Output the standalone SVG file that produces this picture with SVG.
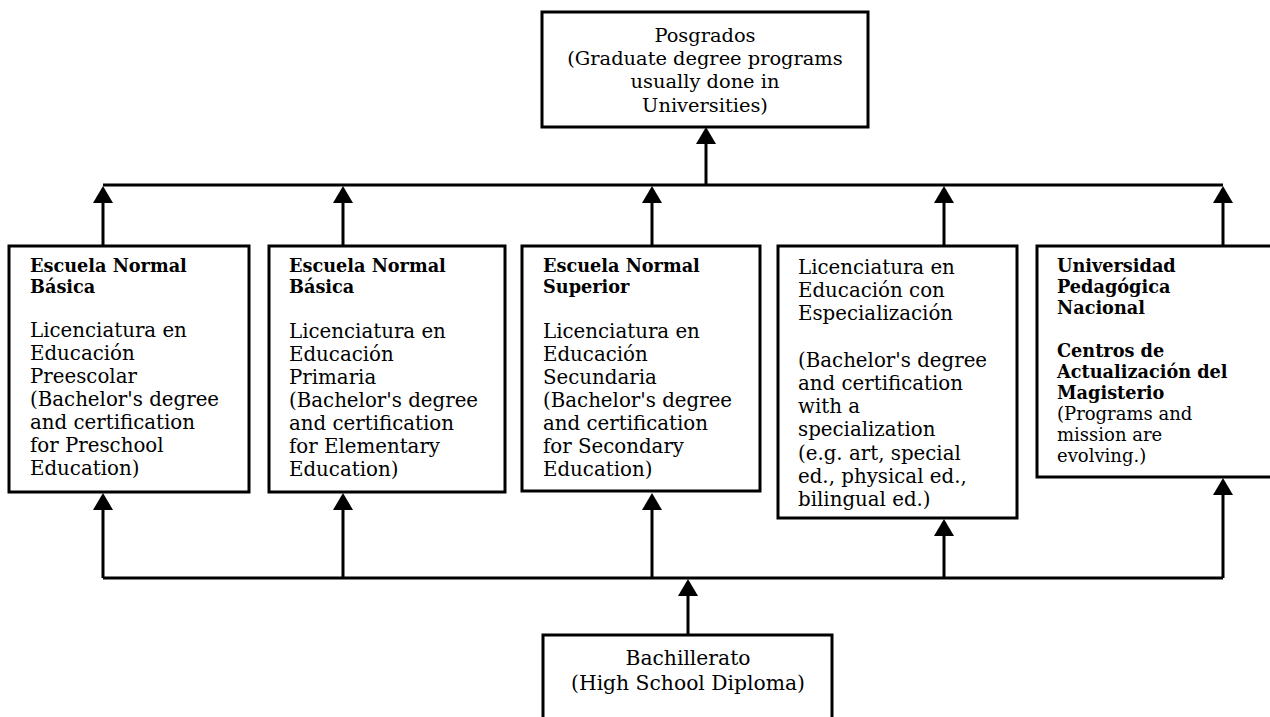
<svg xmlns="http://www.w3.org/2000/svg" width="1270" height="717" viewBox="0 0 1270 717">
<defs>
<style>
.box{fill:#fff;stroke:#000;stroke-width:3}
.ln{fill:none;stroke:#000;stroke-width:3}
.t{font-family:"DejaVu Serif",serif;font-size:19.8px;fill:#000}
.p{font-family:"DejaVu Serif",serif;font-size:19.4px;fill:#000}
.b{font-family:"DejaVu Serif",serif;font-size:17.7px;font-weight:bold;fill:#000}
.s{font-family:"DejaVu Serif",serif;font-size:18px;fill:#000}
.c{font-family:"DejaVu Serif",serif;font-size:20.3px;fill:#000}
</style>
<marker id="ah" viewBox="0 0 17 20" markerWidth="17" markerHeight="20" refX="9" refY="10" orient="auto" markerUnits="userSpaceOnUse">
<path d="M0,0 L17,10 L0,20 Z" fill="#000"/>
</marker>
</defs>
<rect width="1270" height="717" fill="#fff"/>

<g id="connectors">
<path class="ln" d="M103,185 H1223"/>
<path class="ln" d="M706,185 V135" marker-end="url(#ah)"/>
<path class="ln" d="M103,246 V194" marker-end="url(#ah)"/>
<path class="ln" d="M343,246 V194" marker-end="url(#ah)"/>
<path class="ln" d="M652,246 V194" marker-end="url(#ah)"/>
<path class="ln" d="M944,246 V194" marker-end="url(#ah)"/>
<path class="ln" d="M1223,246 V194" marker-end="url(#ah)"/>
<path class="ln" d="M103,578 H1223"/>
<path class="ln" d="M103,578 V501" marker-end="url(#ah)"/>
<path class="ln" d="M343,578 V501" marker-end="url(#ah)"/>
<path class="ln" d="M652,578 V501" marker-end="url(#ah)"/>
<path class="ln" d="M944,578 V527" marker-end="url(#ah)"/>
<path class="ln" d="M1223,578 V486" marker-end="url(#ah)"/>
<path class="ln" d="M688,635 V587" marker-end="url(#ah)"/>
</g>

<g id="posgrados">
<rect class="box" x="542" y="12" width="326" height="115"/>
<g text-anchor="middle">
<text class="p" x="705" y="42">Posgrados</text>
<text class="p" x="705" y="65">(Graduate degree programs</text>
<text class="p" x="705" y="88">usually done in</text>
<text class="p" x="705" y="112">Universities)</text>
</g>
</g>

<g id="preescolar">
<rect class="box" x="9" y="246" width="240" height="246"/>
<text class="b" x="30" y="272">Escuela Normal</text>
<text class="b" x="30" y="293">Básica</text>
<text class="t" x="30" y="337">Licenciatura en</text>
<text class="t" x="30" y="360">Educación</text>
<text class="t" x="30" y="383">Preescolar</text>
<text class="t" x="30" y="406">(Bachelor's degree</text>
<text class="t" x="30" y="429">and certification</text>
<text class="t" x="30" y="452">for Preschool</text>
<text class="t" x="30" y="475">Education)</text>
</g>

<g id="primaria">
<rect class="box" x="269" y="246" width="236" height="246"/>
<text class="b" x="289" y="272">Escuela Normal</text>
<text class="b" x="289" y="293">Básica</text>
<text class="t" x="289" y="338">Licenciatura en</text>
<text class="t" x="289" y="361">Educación</text>
<text class="t" x="289" y="384">Primaria</text>
<text class="t" x="289" y="407">(Bachelor's degree</text>
<text class="t" x="289" y="430">and certification</text>
<text class="t" x="289" y="453">for Elementary</text>
<text class="t" x="289" y="476">Education)</text>
</g>

<g id="secundaria">
<rect class="box" x="522" y="246" width="238" height="245"/>
<text class="b" x="543" y="272">Escuela Normal</text>
<text class="b" x="543" y="293">Superior</text>
<text class="t" x="543" y="338">Licenciatura en</text>
<text class="t" x="543" y="361">Educación</text>
<text class="t" x="543" y="384">Secundaria</text>
<text class="t" x="543" y="407">(Bachelor's degree</text>
<text class="t" x="543" y="430">and certification</text>
<text class="t" x="543" y="453">for Secondary</text>
<text class="t" x="543" y="476">Education)</text>
</g>

<g id="especializacion">
<rect class="box" x="778" y="246" width="239" height="272"/>
<text class="t" x="798" y="274">Licenciatura en</text>
<text class="t" x="798" y="297">Educación con</text>
<text class="t" x="798" y="320">Especialización</text>
<text class="t" x="798" y="367">(Bachelor's degree</text>
<text class="t" x="798" y="390">and certification</text>
<text class="t" x="798" y="413">with a</text>
<text class="t" x="798" y="436">specialization</text>
<text class="t" x="798" y="460">(e.g. art, special</text>
<text class="t" x="798" y="483">ed., physical ed.,</text>
<text class="t" x="798" y="506">bilingual ed.)</text>
</g>

<g id="upn">
<rect class="box" x="1037" y="246" width="250" height="231"/>
<text class="b" x="1057" y="272">Universidad</text>
<text class="b" x="1057" y="293">Pedagógica</text>
<text class="b" x="1057" y="314">Nacional</text>
<text class="b" x="1057" y="357">Centros de</text>
<text class="b" x="1057" y="378">Actualización del</text>
<text class="b" x="1057" y="399">Magisterio</text>
<text class="s" x="1057" y="420">(Programs and</text>
<text class="s" x="1057" y="441">mission are</text>
<text class="s" x="1057" y="462">evolving.)</text>
</g>

<g id="bachillerato">
<rect class="box" x="543" y="635" width="289" height="100"/>
<g text-anchor="middle">
<text class="c" x="688" y="665">Bachillerato</text>
<text class="c" x="688" y="690">(High School Diploma)</text>
</g>
</g>
</svg>
